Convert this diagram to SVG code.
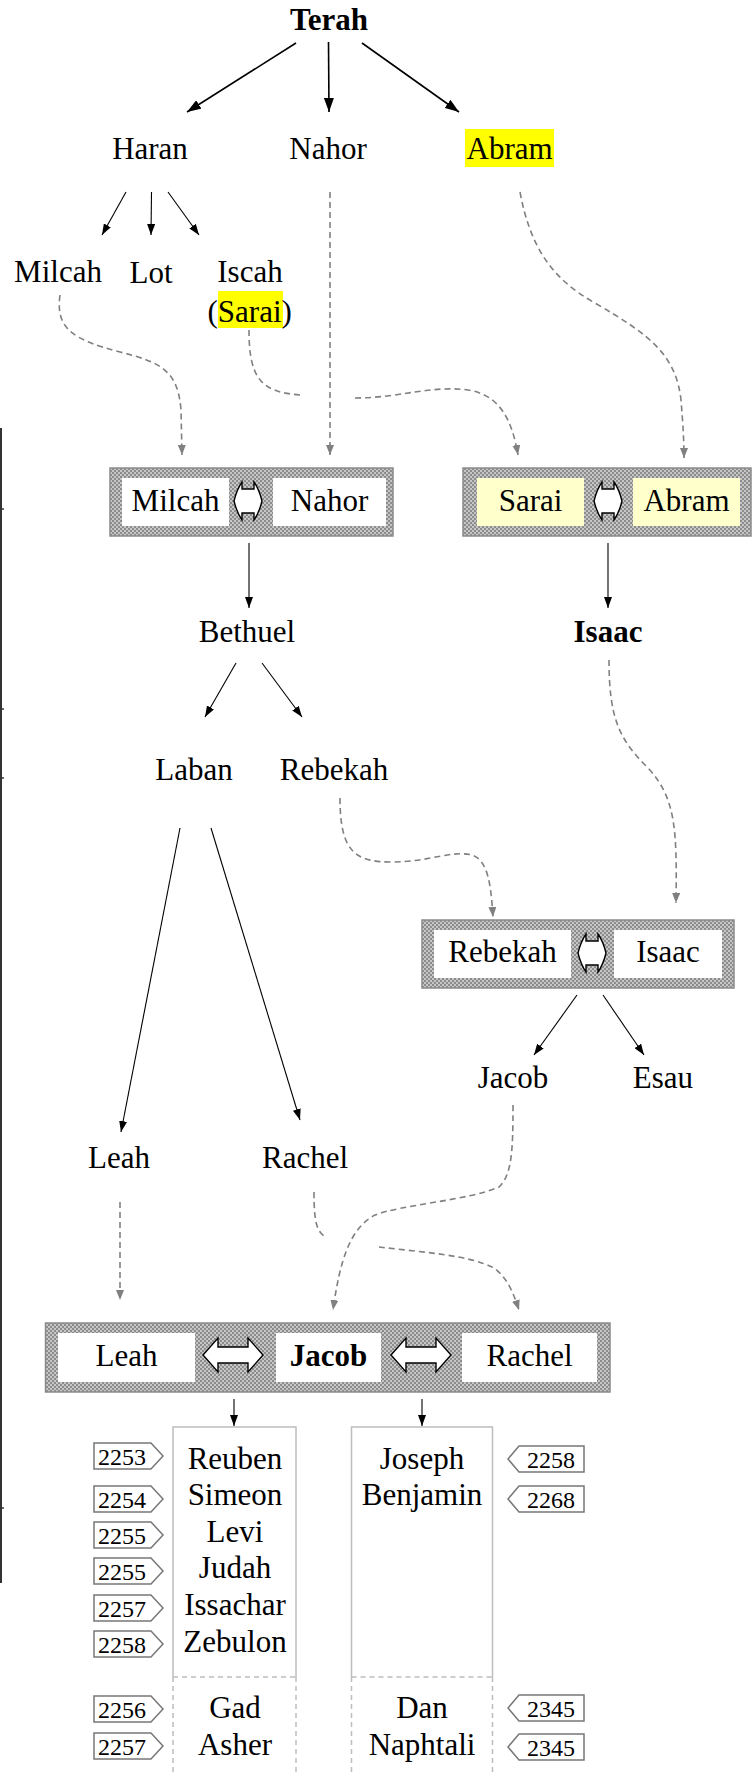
<svg xmlns="http://www.w3.org/2000/svg" width="752" height="1773" viewBox="0 0 752 1773">
<style>
text{font-family:"Liberation Serif","Times New Roman",serif;font-size:31px;fill:#000;text-anchor:middle}
.b{font-weight:bold}
.n{font-size:24px}
.box{fill:url(#hatch);stroke:#8a8a8a;stroke-width:1.5}
.in{fill:#fff}
.iny{fill:#ffffcc}
.dbl{fill:#fff;stroke:#000;stroke-width:1.4}
.kt{fill:none;stroke:#000;stroke-width:1.6;marker-end:url(#ah)}
.ks{fill:none;stroke:#000;stroke-width:1.1;marker-end:url(#ahs)}
.g{fill:none;stroke:#808080;stroke-width:1.6;stroke-dasharray:6 4}
.ga{marker-end:url(#ahg)}
.tag{fill:#fff;stroke:#777;stroke-width:1.5}
.cb{fill:none;stroke:#bdbdbd;stroke-width:1.5}
.cd{fill:none;stroke:#bdbdbd;stroke-width:1.5;stroke-dasharray:5 4}
.hl{fill:#ffff00}
</style>
<defs>
<pattern id="hatch" width="4" height="4" patternUnits="userSpaceOnUse">
<rect width="4" height="4" fill="#c6c6c6"/>
<rect width="2" height="2" fill="#8c8c8c"/>
<rect x="2" y="2" width="2" height="2" fill="#8c8c8c"/>
</pattern>
<marker id="ah" markerUnits="userSpaceOnUse" markerWidth="14" markerHeight="10" refX="14" refY="5" orient="auto"><path d="M0,0 L14,5 L0,10 Z" fill="#000"/></marker>
<marker id="ahs" markerUnits="userSpaceOnUse" markerWidth="11" markerHeight="8" refX="11" refY="4" orient="auto"><path d="M0,0 L11,4 L0,8 Z" fill="#000"/></marker>
<marker id="ahg" markerUnits="userSpaceOnUse" markerWidth="10" markerHeight="8" refX="10" refY="4" orient="auto"><path d="M0,0 L10,4 L0,8 Z" fill="#808080"/></marker>
<path id="dsm" d="M-14,0 Q-11,-12 -6,-19 L-6,-12 L6,-12 L6,-19 Q11,-12 14,0 Q11,12 6,19 L6,12 L-6,12 L-6,19 Q-11,12 -14,0 Z"/>
<path id="dbig" d="M-30,0 L-15,-17 L-15,-8 L15,-8 L15,-17 L30,0 L15,17 L15,8 L-15,8 L-15,17 Z"/>
</defs>

<g id="edge">
<path d="M1,428 L1,1583" stroke="#333" stroke-width="2" fill="none"/>
<path d="M0,509 h4 M0,709 h4 M0,778 h4 M0,1508 h4" stroke="#333" stroke-width="1.5"/>
</g>

<g id="connectors">
<path class="kt" d="M296,43 L187,112"/>
<path class="kt" d="M328.5,42 L329,112"/>
<path class="kt" d="M362,43 L459,112"/>
<path class="ks" d="M126,192 L102,235"/>
<path class="ks" d="M151.5,192 L151,235"/>
<path class="ks" d="M168,192 L199,235"/>
<path class="ks" d="M249,543 L249,608"/>
<path class="ks" d="M608,543 L608,608"/>
<path class="ks" d="M236,663 L205,717"/>
<path class="ks" d="M262,663 L302,717"/>
<path class="ks" d="M180,828 L121,1132"/>
<path class="ks" d="M211,828 L300,1120"/>
<path class="ks" d="M577,995 L534,1055"/>
<path class="ks" d="M603,995 L644,1055"/>
<path class="ks" d="M234,1399 L234,1426"/>
<path class="ks" d="M422,1399 L422,1426"/>

<path class="g ga" d="M330,192 L330,455"/>
<path class="g ga" d="M520,192 C530,245 550,278 595,303 C650,335 676,355 681,400 C683,425 684,440 684,458"/>
<path class="g ga" d="M60,295 C55,330 75,340 120,352 C160,362 178,370 181,410 L182,455"/>
<path class="g" d="M249,330 C249,380 262,392 300,395"/>
<path class="g ga" d="M355,398 C400,398 430,385 468,390 C500,395 512,420 518,455"/>
<path class="g ga" d="M609,660 C609,720 620,740 648,768 C676,798 677,830 676,903"/>
<path class="g ga" d="M340,798 C340,852 355,862 392,862 C430,862 450,850 472,855 C488,860 491,885 493,917"/>
<path class="g ga" d="M120,1202 L120,1300"/>
<path class="g" d="M314,1192 C314,1220 316,1232 326,1237"/>
<path class="g ga" d="M379,1247 C420,1252 470,1255 494,1268 C508,1278 514,1295 519,1310"/>
<path class="g ga" d="M513,1105 C513,1150 512,1175 499,1187 C470,1200 400,1205 375,1215 C350,1228 340,1260 333,1310"/>
</g>

<g id="terah"><text class="b" x="329" y="30">Terah</text></g>
<g id="haran"><text x="150" y="159">Haran</text></g>
<g id="nahor"><text x="328" y="159">Nahor</text></g>
<g id="abram"><rect class="hl" x="465" y="129" width="89" height="38"/><text x="466.5" y="159" style="text-anchor:start">Abram</text></g>
<g id="milcah"><text x="58" y="282">Milcah</text></g>
<g id="lot"><text x="151" y="283">Lot</text></g>
<g id="iscah"><rect class="hl" x="218" y="291" width="65" height="37"/><text x="250" y="282">Iscah</text><text x="207.5" y="322" style="text-anchor:start">(Sarai)</text></g>

<g id="box-milcah-nahor">
<rect class="box" x="110" y="468" width="283" height="68"/>
<rect class="in" x="122" y="478" width="107" height="48"/>
<rect class="in" x="273" y="478" width="113" height="48"/>
<use href="#dsm" class="dbl" x="248" y="501"/>
<text x="175.5" y="511">Milcah</text>
<text x="329.5" y="511">Nahor</text>
</g>

<g id="box-sarai-abram">
<rect class="box" x="463" y="468" width="288" height="68"/>
<rect class="iny" x="477" y="478" width="107" height="48"/>
<rect class="iny" x="633" y="478" width="107" height="48"/>
<use href="#dsm" class="dbl" x="608" y="501"/>
<text x="530.5" y="511">Sarai</text>
<text x="686.5" y="511">Abram</text>
</g>

<g id="bethuel"><text x="247" y="642">Bethuel</text></g>
<g id="isaac"><text class="b" x="608" y="642">Isaac</text></g>
<g id="laban"><text x="194" y="780">Laban</text></g>
<g id="rebekah"><text x="334" y="780">Rebekah</text></g>

<g id="box-rebekah-isaac">
<rect class="box" x="422" y="920" width="312" height="68"/>
<rect class="in" x="434" y="930" width="137" height="48"/>
<rect class="in" x="614" y="930" width="108" height="48"/>
<use href="#dsm" class="dbl" x="592" y="953"/>
<text x="502.5" y="962">Rebekah</text>
<text x="668" y="962">Isaac</text>
</g>

<g id="jacob"><text x="513" y="1088">Jacob</text></g>
<g id="esau"><text x="663" y="1088">Esau</text></g>
<g id="leah"><text x="119" y="1168">Leah</text></g>
<g id="rachel"><text x="305" y="1168">Rachel</text></g>

<g id="box-leah-jacob-rachel">
<rect class="box" x="45.5" y="1323" width="564.5" height="69"/>
<rect class="in" x="58" y="1333" width="137" height="49"/>
<rect class="in" x="276" y="1333" width="105" height="49"/>
<rect class="in" x="462" y="1333" width="135" height="49"/>
<use href="#dbig" class="dbl" x="233" y="1355"/>
<use href="#dbig" class="dbl" x="421" y="1355"/>
<text x="126.5" y="1366">Leah</text>
<text class="b" x="328.5" y="1366">Jacob</text>
<text x="529.5" y="1366">Rachel</text>
</g>

<g id="leah-children">
<path class="cb" d="M173,1677 L173,1427 L296,1427 L296,1677"/>
<path class="cd" d="M173,1677 L296,1677 M173,1677 L173,1773 M296,1677 L296,1773"/>
<text x="235" y="1469">Reuben</text>
<text x="235" y="1505">Simeon</text>
<text x="235" y="1542">Levi</text>
<text x="235" y="1578">Judah</text>
<text x="235" y="1615">Issachar</text>
<text x="235" y="1652">Zebulon</text>
<text x="235" y="1718">Gad</text>
<text x="235" y="1755">Asher</text>
</g>

<g id="rachel-children">
<path class="cb" d="M351.5,1677 L351.5,1427 L492.5,1427 L492.5,1677"/>
<path class="cd" d="M351.5,1677 L492.5,1677 M351.5,1677 L351.5,1773 M492.5,1677 L492.5,1773"/>
<text x="422" y="1469">Joseph</text>
<text x="422" y="1505">Benjamin</text>
<text x="422" y="1718">Dan</text>
<text x="422" y="1755">Naphtali</text>
</g>

<g id="tags-left">
<path class="tag" d="M94,1443 H151 L163,1456 L151,1469 H94 Z"/><text class="n" x="122" y="1465">2253</text>
<path class="tag" d="M94,1486 H151 L163,1499 L151,1512 H94 Z"/><text class="n" x="122" y="1508">2254</text>
<path class="tag" d="M94,1522 H151 L163,1535 L151,1548 H94 Z"/><text class="n" x="122" y="1544">2255</text>
<path class="tag" d="M94,1558 H151 L163,1571 L151,1584 H94 Z"/><text class="n" x="122" y="1580">2255</text>
<path class="tag" d="M94,1595 H151 L163,1608 L151,1621 H94 Z"/><text class="n" x="122" y="1617">2257</text>
<path class="tag" d="M94,1631 H151 L163,1644 L151,1657 H94 Z"/><text class="n" x="122" y="1653">2258</text>
<path class="tag" d="M94,1696 H151 L163,1709 L151,1722 H94 Z"/><text class="n" x="122" y="1718">2256</text>
<path class="tag" d="M94,1733 H151 L163,1746 L151,1759 H94 Z"/><text class="n" x="122" y="1755">2257</text>
</g>

<g id="tags-right">
<path class="tag" d="M584,1446 H519 L508,1459 L519,1472 H584 Z"/><text class="n" x="551" y="1468">2258</text>
<path class="tag" d="M584,1486 H519 L508,1499 L519,1512 H584 Z"/><text class="n" x="551" y="1508">2268</text>
<path class="tag" d="M584,1695 H519 L508,1708 L519,1721 H584 Z"/><text class="n" x="551" y="1717">2345</text>
<path class="tag" d="M584,1734 H519 L508,1747 L519,1760 H584 Z"/><text class="n" x="551" y="1756">2345</text>
</g>
</svg>
